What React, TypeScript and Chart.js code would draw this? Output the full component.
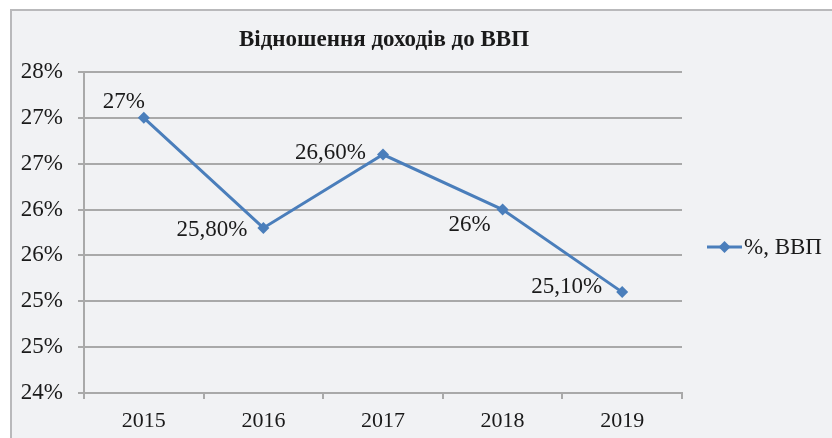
import React, { useEffect, useRef } from "react";
import { Chart, registerables } from "chart.js";

Chart.register(...registerables);

const categories = ["2015", "2016", "2017", "2018", "2019"];
const seriesName = "%, ВВП";
const values = [27, 25.8, 26.6, 26, 25.1];
const valueLabels = ["27%", "25,80%", "26,60%", "26%", "25,10%"];
const titleText = "Відношення доходів до ВВП";
// label offsets relative to the point (right edge of text, vertical centre)
const labelDx = [1, -16, -17, -12, -20];
const labelDy = [-16, 2, -2, 15, -5];

const FONT = "'Liberation Serif', 'Times New Roman', serif";
const BLUE = "#4a7ebb";

const decorPlugin = {
  id: "decor",
  beforeDraw(chart: any) {
    const ctx = chart.ctx;
    ctx.save();
    ctx.fillStyle = "#ffffff";
    ctx.fillRect(0, 0, chart.width, chart.height);
    ctx.fillStyle = "#f1f2f4";
    ctx.fillRect(10, 9, chart.width - 10, chart.height - 9);
    ctx.strokeStyle = "#b9b9bb";
    ctx.lineWidth = 2;
    ctx.beginPath();
    ctx.moveTo(11, chart.height + 2);
    ctx.lineTo(11, 10);
    ctx.lineTo(chart.width + 2, 10);
    ctx.stroke();
    ctx.restore();
  },
  afterDraw(chart: any) {
    const ctx = chart.ctx;
    const area = chart.chartArea;
    ctx.save();
    // title
    ctx.fillStyle = "#1a1a1a";
    ctx.font = `bold 23px ${FONT}`;
    ctx.textAlign = "center";
    ctx.textBaseline = "middle";
    ctx.fillText(titleText, (area.left + area.right) / 2 + 1, 40);
    // data labels
    const meta = chart.getDatasetMeta(0);
    ctx.font = `23px ${FONT}`;
    ctx.textAlign = "right";
    ctx.fillStyle = "#1a1a1a";
    meta.data.forEach((pt: any, i: number) => {
      ctx.fillText(valueLabels[i], pt.x + labelDx[i], pt.y + labelDy[i]);
    });
    // legend
    const ly = 247;
    ctx.strokeStyle = BLUE;
    ctx.lineWidth = 3;
    ctx.beginPath();
    ctx.moveTo(707, ly);
    ctx.lineTo(742, ly);
    ctx.stroke();
    ctx.fillStyle = BLUE;
    ctx.beginPath();
    ctx.moveTo(724.5, ly - 6);
    ctx.lineTo(730.5, ly);
    ctx.lineTo(724.5, ly + 6);
    ctx.lineTo(718.5, ly);
    ctx.closePath();
    ctx.fill();
    ctx.fillStyle = "#1a1a1a";
    ctx.textAlign = "left";
    ctx.font = `23px ${FONT}`;
    ctx.fillText(seriesName, 744, ly + 1);
    ctx.restore();
  },
};

export default function App() {
  const ref = useRef<HTMLCanvasElement>(null);
  useEffect(() => {
    if (!ref.current) return;
    const chart = new Chart(ref.current, {
      type: "line",
      data: {
        labels: categories,
        datasets: [
          {
            label: seriesName,
            data: values,
            borderColor: BLUE,
            backgroundColor: BLUE,
            borderWidth: 3,
            pointStyle: "rectRot",
            pointRadius: 6,
            pointBorderWidth: 0,
            pointBackgroundColor: BLUE,
            tension: 0,
          },
        ],
      },
      options: {
        responsive: false,
        animation: false,
        devicePixelRatio: 1,
        layout: { padding: { top: 72, right: 150, left: 0, bottom: 0 } },
        plugins: {
          legend: { display: false },
          title: { display: false },
          tooltip: { enabled: false },
        },
        scales: {
          x: {
            offset: true,
            border: { color: "#a9a9a9", width: 2 },
            grid: {
              offset: true,
              drawOnChartArea: false,
              drawTicks: true,
              tickLength: 6,
              color: "#a9a9a9",
              lineWidth: 2,
            },
            ticks: {
              color: "#1a1a1a",
              font: { family: FONT, size: 22 },
              padding: 9,
              maxRotation: 0,
            },
            afterFit(scale: any) {
              scale.height = 45;
            },
          },
          y: {
            min: 24,
            max: 27.5,
            border: { color: "#a9a9a9", width: 2 },
            grid: {
              color: "#a9a9a9",
              lineWidth: 2,
              tickLength: 6,
            },
            ticks: {
              stepSize: 0.5,
              color: "#1a1a1a",
              font: { family: FONT, size: 23 },
              padding: 15,
              callback: (v: any) => Math.round(Number(v)) + "%",
            },
            afterFit(scale: any) {
              scale.width = 84;
            },
          },
        },
      },
      plugins: [decorPlugin],
    });
    return () => chart.destroy();
  }, []);
  return (
    <div style={{ position: "fixed", left: 0, top: 0, width: 832, height: 438 }}>
      <canvas ref={ref} width={832} height={438} style={{ display: "block" }} />
    </div>
  );
}
